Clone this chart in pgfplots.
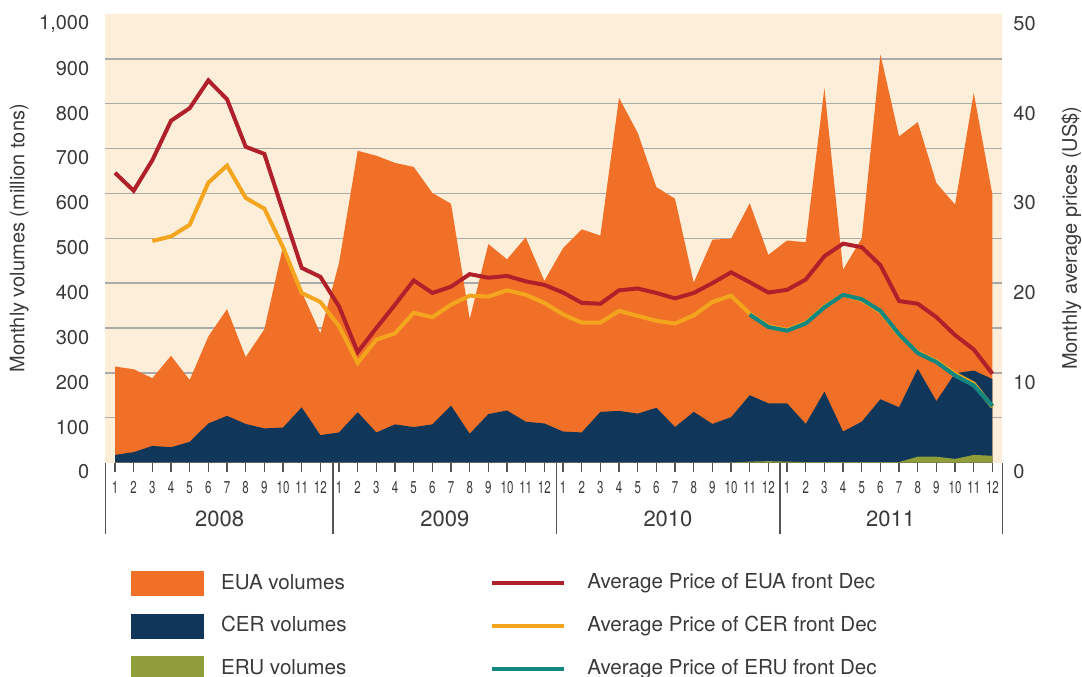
\documentclass[border=0pt]{standalone}
\usepackage{pgfplots}
\usepackage{pgfplotstable}
\pgfplotsset{compat=1.18}
\usepackage{fontspec}
\setmainfont{TeX Gyre Heros}
\definecolor{bgc}{HTML}{FDEEDA}
\definecolor{euac}{HTML}{F07028}
\definecolor{cerc}{HTML}{10365A}
\definecolor{eruc}{HTML}{8F9E3B}
\definecolor{redc}{HTML}{B0202A}
\definecolor{yelc}{HTML}{F3A51E}
\definecolor{tealc}{HTML}{128780}
\definecolor{gridc}{HTML}{A9A9A9}
\definecolor{textc}{HTML}{3A3A3A}
\definecolor{tickc}{HTML}{555555}

% month, top of EUA (total), top of CER (CER+ERU), ERU
\pgfplotstableread{
m tot cer eru
1 214 17 0
2 208 23 0
3 188 37 0
4 238 34 0
5 184 46 0
6 281 87 0
7 342 104 0
8 235 86 0
9 297 76 0
10 482 78 0
11 380 123 0
12 288 61 0
13 445 67 0
14 695 112 0
15 684 67 0
16 668 85 0
17 659 79 0
18 601 85 0
19 577 127 0
20 320 64 0
21 487 108 0
22 453 116 0
23 502 91 0
24 405 87 0
25 478 69 0
26 520 67 0
27 506 113 0
28 813 115 0
29 735 109 0
30 614 122 0
31 588 79 0
32 401 113 0
33 497 86 0
34 499 101 0
35 578 150 2
36 463 132 3
37 495 132 2
38 491 86 1
39 835 158 1
40 430 69 1
41 500 91 1
42 910 141 1
43 727 123 1
44 759 209 13
45 623 137 13
46 575 199 8
47 824 205 17
48 597 186 15
}\voldata

\pgfplotstableread{
m eua
1 32.3
2 30.3
3 33.7
4 38.1
5 39.5
6 42.6
7 40.5
8 35.2
9 34.4
10 28.0
11 21.7
12 20.7
13 17.4
14 12.3
15 15.0
16 17.6
17 20.3
18 18.9
19 19.6
20 21.0
21 20.6
22 20.8
23 20.2
24 19.8
25 18.95
26 17.8
27 17.7
28 19.2
29 19.4
30 18.9
31 18.3
32 18.9
33 20.0
34 21.2
35 20.1
36 18.95
37 19.25
38 20.4
39 23.0
40 24.4
41 24.0
42 22.0
43 18.0
44 17.7
45 16.2
46 14.2
47 12.6
48 9.9
}\euaprice

\pgfplotstableread{
m cer
3 24.7
4 25.2
5 26.5
6 31.2
7 33.1
8 29.5
9 28.3
10 24.0
11 18.9
12 17.9
13 15.2
14 11.1
15 13.7
16 14.4
17 16.7
18 16.2
19 17.6
20 18.6
21 18.5
22 19.2
23 18.7
24 17.8
25 16.5
26 15.6
27 15.6
28 16.9
29 16.35
30 15.8
31 15.5
32 16.4
33 17.9
34 18.6
35 16.6
36 15.2
37 14.8
38 15.6
39 17.4
40 18.7
41 18.1
42 16.8
43 14.2
44 12.3
45 11.3
46 9.9
47 8.8
48 6.2
}\cerprice

\pgfplotstableread{
m eru
35 16.5
36 15.1
37 14.7
38 15.5
39 17.3
40 18.7
41 18.2
42 16.9
43 14.3
44 12.2
45 11.2
46 9.7
47 8.6
48 6.3
}\eruprice

\pgfplotsset{
  common/.style={
    at={(52.65pt,-231.25pt)}, anchor=south west,
    scale only axis, width=448.5pt, height=224.25pt,
    xmin=0.48, xmax=48.53,
    clip=false,
    set layers=standard,
    axis line style={draw=none},
    ytick style={draw=none},
    yticklabel style={font=\fontsize{10}{12}\selectfont, text=textc, yshift=-4.75pt},
    label style={font=\fontsize{10}{12}\selectfont, text=textc},
    legend style={draw=none, fill=none, inner sep=0pt, outer sep=0pt,
      nodes={inner sep=0pt, text height=7.6pt, text depth=2.2pt, text=textc,
        font=\fontsize{10.3}{12}\selectfont},
      cells={anchor=west}},
  },
}

\begin{document}
\begin{tikzpicture}[x=1pt,y=1pt]
\begin{axis}[common,
  ymin=0, ymax=1000,
  axis background/.style={fill=bgc},
  axis x line*=bottom, axis y line*=left,
  tick align=outside,
  major tick length=4.5pt,
  xtick={1,...,48},
  xticklabels={1,2,3,4,5,6,7,8,9,10,11,12,1,2,3,4,5,6,7,8,9,10,11,12,1,2,3,4,5,6,7,8,9,10,11,12,1,2,3,4,5,6,7,8,9,10,11,12},
  xtick style={draw=tickc, line width=0.6pt},
  xticklabel style={font=\fontsize{8.6}{9}\selectfont, xscale=0.67, text=textc, inner sep=0pt, anchor=north, yshift=-4.6pt},
  extra x ticks={0.48,12.68,24.65,36.62,48.53},
  extra x tick labels={},
  extra x tick style={major tick length=35.5pt, grid=none, tick style={draw=tickc, line width=0.7pt}},
  ytick={0,100,...,1000},
  yticklabels={0,100,200,300,400,500,600,700,800,900,{1,000}},
  extra y ticks={100,200,...,900},
  extra y tick labels={},
  extra y tick style={grid=major, major tick length=0pt},
  major grid style={draw=gridc, line width=0.7pt},
  ylabel={Monthly volumes (million tons)},
  ylabel style={at={(axis description cs:-0.0959,0.5)}, anchor=center},
  legend style={at={(axis description cs:0.0283,-0.2430)}, anchor=north west,
    row sep=8.75pt, column sep=8.5pt},
  legend image code/.code={\fill[#1] (0pt,-6.25pt) rectangle (36.7pt,6.25pt);},
]
\addplot[fill=euac, draw=none] table[x=m, y=tot] {\voldata} \closedcycle;
\addlegendentry{EUA volumes}
\addplot[fill=cerc, draw=none] table[x=m, y=cer] {\voldata} \closedcycle;
\addlegendentry{CER volumes}
\addplot[fill=eruc, draw=none] table[x=m, y=eru] {\voldata} \closedcycle;
\addlegendentry{ERU volumes}
\node[font=\fontsize{11}{13}\selectfont, text=textc, anchor=center] at (axis cs:6.6,0) [yshift=-28.25pt] {2008};
\node[font=\fontsize{11}{13}\selectfont, text=textc, anchor=center] at (axis cs:18.67,0) [yshift=-28.25pt] {2009};
\node[font=\fontsize{11}{13}\selectfont, text=textc, anchor=center] at (axis cs:30.62,0) [yshift=-28.25pt] {2010};
\node[font=\fontsize{11}{13}\selectfont, text=textc, anchor=center] at (axis cs:42.55,0) [yshift=-28.25pt] {2011};
\end{axis}
\begin{axis}[common,
  ymin=0, ymax=50,
  hide x axis,
  axis y line*=right,
  ytick={0,10,...,50},
  yticklabels={0,10,20,30,40,50},
  yticklabel style={xshift=2pt},
  ylabel={Monthly average prices (US\$)},
  ylabel style={at={(axis description cs:1.0769,0.5)}, anchor=center, rotate=0},
  legend style={at={(axis description cs:0.4286,-0.2470)}, anchor=north west,
    row sep=11.7pt, column sep=10.85pt},
  legend image code/.code={\draw[#1] (0pt,0pt) -- (36pt,0pt);},
]
\addplot[redc, line width=2pt] table[x=m, y=eua] {\euaprice};
\addlegendentry{Average Price of EUA front Dec}
\addplot[yelc, line width=2pt] table[x=m, y=cer] {\cerprice};
\addlegendentry{Average Price of CER front Dec}
\addplot[tealc, line width=2pt] table[x=m, y=eru] {\eruprice};
\addlegendentry{Average Price of ERU front Dec}
\end{axis}
\pgfresetboundingbox
\useasboundingbox (0,0) rectangle (541pt,-338pt);
\end{tikzpicture}
\end{document}
